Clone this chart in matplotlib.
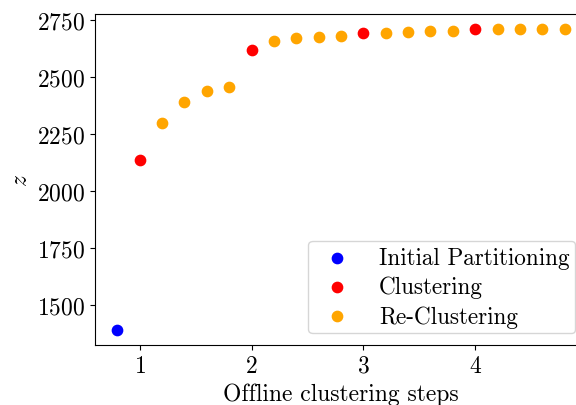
import matplotlib
matplotlib.use("Agg")
import matplotlib.pyplot as plt

plt.rcParams['font.family'] = 'serif'
plt.rcParams['font.serif'] = ['cmr10']
plt.rcParams['mathtext.fontset'] = 'cm'
plt.rcParams['axes.formatter.use_mathtext'] = True
plt.rcParams['font.size'] = 17

init_x = [0.8]
init_y = [1390]

clus_x = [1.0, 2.0, 3.0, 4.0]
clus_y = [2137, 2620, 2695, 2711]

recl_x = [1.2, 1.4, 1.6, 1.8, 2.2, 2.4, 2.6, 2.8, 3.2, 3.4, 3.6, 3.8, 4.2, 4.4, 4.6, 4.8]
recl_y = [2300, 2391, 2440, 2458, 2657, 2673, 2674, 2680, 2695, 2696, 2703, 2703,
          2711, 2711, 2711, 2711]

fig = plt.figure(figsize=(5.76, 4.06), dpi=100)
ax = fig.add_axes([0.165, 0.148, 1.019 - 0.165, 0.963 - 0.148])

ax.scatter(init_x, init_y, color='blue', s=55, label='Initial Partitioning', zorder=3)
ax.scatter(clus_x, clus_y, color='red', s=55, label='Clustering', zorder=3)
ax.scatter(recl_x, recl_y, color='orange', s=55, label='Re-Clustering', zorder=3)

ax.set_xlim(0.6, 5.0)
ax.set_xticks([1, 2, 3, 4])
ax.set_yticks([1500, 1750, 2000, 2250, 2500, 2750])
ax.set_xlabel('Offline clustering steps')
ax.set_ylabel('$z$')
ax.legend(loc='lower right', fontsize=16.7, labelspacing=0.3, borderpad=0.25)

fig.savefig('out.png', dpi=100)
